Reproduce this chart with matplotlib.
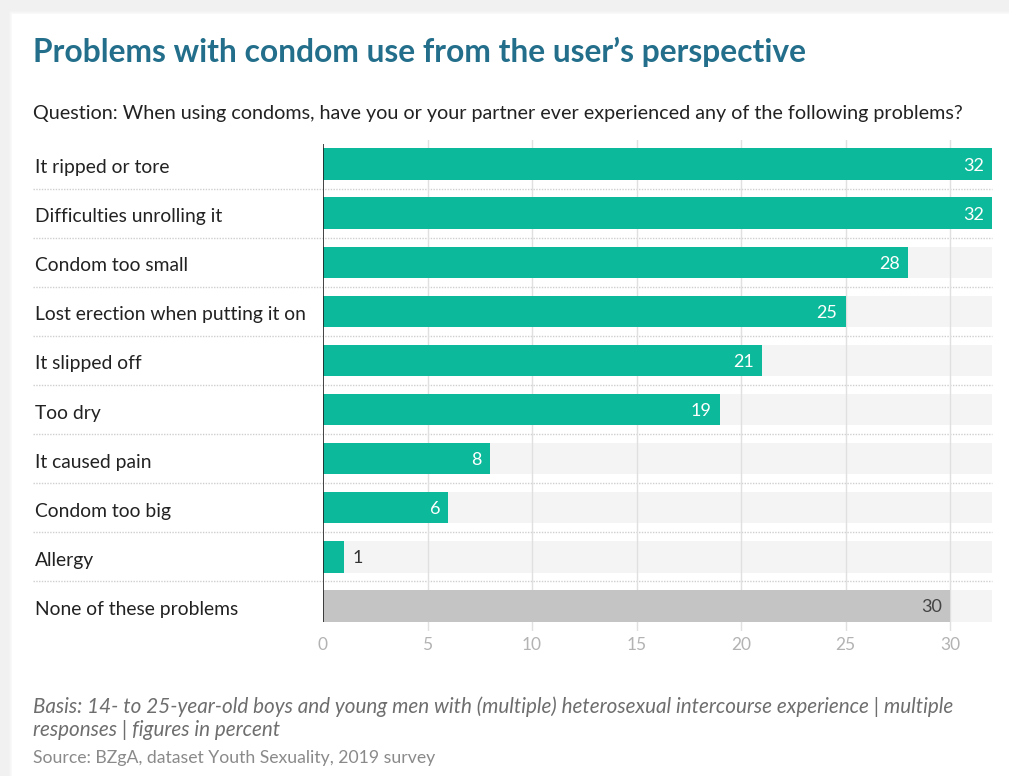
import matplotlib
matplotlib.use("Agg")
import matplotlib.pyplot as plt
from matplotlib.patches import Rectangle

# survey answers, top to bottom
problems = [
    "It ripped or tore",
    "Difficulties unrolling it",
    "Condom too small",
    "Lost erection when putting it on",
    "It slipped off",
    "Too dry",
    "It caused pain",
    "Condom too big",
    "Allergy",
    "None of these problems",
]
percent = [32, 32, 28, 25, 21, 19, 8, 6, 1, 30]
x_ticks = [0, 5, 10, 15, 20, 25, 30]

TEAL = "#0cb99a"
GREY_BAR = "#c4c4c4"
BAND = "#f4f4f4"
TITLE_BLUE = "#236f8b"
X_MAX = 32

plt.rcParams["font.family"] = ["Lato", "DejaVu Sans"]

W, H = 1009, 776
fig = plt.figure(figsize=(W / 100, H / 100), dpi=100)
fig.patch.set_facecolor("#f1f1f1")

# white card with a soft edge
for i, a in enumerate([0.25, 0.45, 0.7]):
    fig.patches.append(Rectangle(((9 + i) / W, 0), 1, 1 - (11 + i) / H,
                                 transform=fig.transFigure, facecolor="#fbfbfb",
                                 edgecolor="none", alpha=a, zorder=-3))
fig.patches.append(Rectangle((12 / W, 0), 1, 1 - 14 / H, transform=fig.transFigure,
                             facecolor="white", edgecolor="none", zorder=-2))

def fx(px):
    return px / W

def fy(py):
    return 1 - py / H

ax = fig.add_axes([fx(323), fy(630.5), fx(992) - fx(323), fy(139.5) - fy(630.5)])
ax.set_facecolor("none")
ax.set_zorder(2)
n = len(problems)
rows = list(range(n))
ax.set_xlim(0, X_MAX)
ax.set_ylim(n - 0.5, -0.5)

bar_h = 0.64
ax.barh(rows, [X_MAX] * n, height=bar_h, color=BAND, zorder=1)
for x in x_ticks[1:]:
    ax.axvline(x, color="#e0e0e0", lw=1, zorder=1.5)

colors = [TEAL] * (n - 1) + [GREY_BAR]
ax.barh(rows, percent, height=bar_h, color=colors, zorder=2)

for r, v in zip(rows, percent):
    if r == n - 1:
        ax.text(v - 0.4, r, str(v), ha="right", va="center_baseline", fontsize=13,
                color="#444444", zorder=3)
    elif v < 3:
        ax.text(v + 0.4, r, str(v), ha="left", va="center_baseline", fontsize=13,
                color="#333333", zorder=3)
    else:
        ax.text(v - 0.4, r, str(v), ha="right", va="center_baseline", fontsize=13,
                color="white", zorder=3)

ax.vlines(0, -0.4, n - 1 + bar_h / 2, color="#222222", lw=1.2, zorder=4)

for spine in ax.spines.values():
    spine.set_visible(False)
ax.set_yticks([])
ax.set_xticks(x_ticks)
ax.set_xticklabels([str(t) for t in x_ticks], color="#b3b3b3", fontsize=12.5)
ax.tick_params(axis="x", length=0, pad=5)

# row labels and dotted separators across the whole row
for r, label in enumerate(problems):
    y_px = 164 + r * 49.1
    fig.text(fx(35), fy(y_px + 2), label, ha="left", va="center_baseline",
             fontsize=13.9, color="#222222")
    if r < n - 1:
        y_sep = fy(y_px + 24.5)
        fig.add_artist(plt.Line2D([fx(33), fx(992)], [y_sep, y_sep],
                                  transform=fig.transFigure, color="#cfcfcf",
                                  lw=1, ls=(0, (1, 1))))

fig.text(fx(33), fy(49), "Problems with condom use from the user\u2019s perspective",
         ha="left", va="center_baseline", fontsize=22.9, fontweight="bold",
         color=TITLE_BLUE)
fig.text(fx(33), fy(112),
         "Question: When using condoms, have you or your partner ever experienced any of the following problems?",
         ha="left", va="center_baseline", fontsize=14.2, color="#222222")

fig.text(fx(33), fy(705),
         "Basis: 14- to 25-year-old boys and young men with (multiple) heterosexual intercourse experience | multiple",
         ha="left", va="center_baseline", fontsize=14.9, style="italic", color="#6e6e6e")
fig.text(fx(33), fy(728), "responses | figures in percent",
         ha="left", va="center_baseline", fontsize=14.9, style="italic", color="#6e6e6e")
fig.text(fx(33), fy(757), "Source: BZgA, dataset Youth Sexuality, 2019 survey",
         ha="left", va="center_baseline", fontsize=12.7, color="#8a8a8a")

fig.savefig("out.png", dpi=100, facecolor=fig.get_facecolor())
